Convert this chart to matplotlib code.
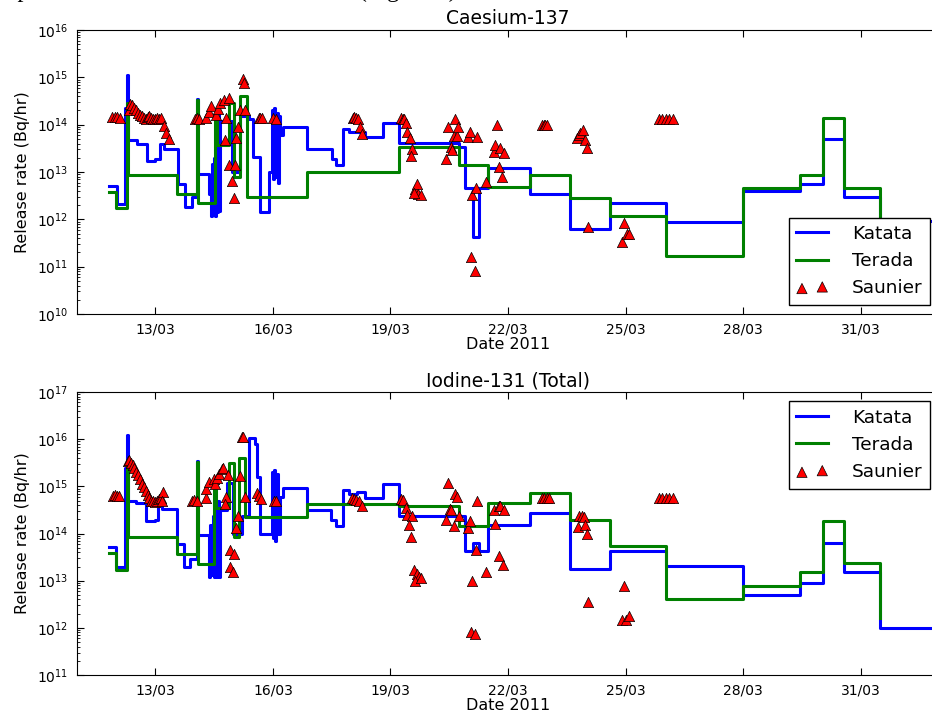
import matplotlib
matplotlib.use('Agg')
import matplotlib.pyplot as plt
import matplotlib.dates as mdates
import matplotlib.ticker as mticker
import numpy as np
import pandas as pd

# times are fractional days of March 2011, rates in Bq/hr

# ---- Caesium-137 ----
cs_katata_day = [11.81, 12.02, 12.22, 12.27, 12.29, 12.53, 12.79, 13.00, 13.13, 13.21, 13.58, 13.75,
                 13.94, 14.06, 14.08, 14.36, 14.42, 14.44, 14.46, 14.49, 14.51, 14.54, 14.56, 14.60,
                 14.62, 14.64, 14.96, 15.17, 15.38, 15.50, 15.68, 15.89, 15.98, 16.00, 16.03, 16.06,
                 16.09, 16.12, 16.15, 16.19, 16.26, 16.87, 17.51, 17.62, 17.80, 17.93, 18.36, 18.81,
                 19.22, 20.74, 20.91, 21.10, 21.27, 21.50, 22.57, 23.59, 24.59, 26.04, 28.00, 29.45,
                 30.04, 30.57, 31.50, 33.00]
cs_katata_rate = [5e12, 2.1e12, 2.3e14, 1.1e15, 4.8e13, 4.0e13, 1.7e13, 1.85e13, 4.0e13, 3.0e13, 5.7e12, 1.85e12,
                  3.0e12, 3.5e14, 9.0e12, 3.5e12, 1.2e12, 1.5e13, 1.3e12, 2.0e13, 1.2e12, 1.1e13, 1.4e12, 2.3e14,
                  1.5e12, 1.2e14, 1.0e13, 1.5e14, 1.3e14, 2.1e13, 1.4e12, 1.0e13, 2.0e14, 7e12, 2.2e14, 8e12,
                  1.8e14, 6e12, 1.5e14, 6e13, 9e13, 3e13, 1.85e13, 1.4e13, 8.3e13, 6.9e13, 5.4e13, 1.1e14,
                  4.2e13, 3.4e13, 4.5e12, 4.3e11, 4.5e12, 1.2e13, 3.4e12, 6.3e11, 2.2e12, 8.7e11, 4e12, 5.6e12,
                  5e13, 2.9e12, 9.1e11, 9.1e11]

cs_terada_day = [11.81, 12.00, 12.27, 12.30, 13.54, 14.06, 14.08, 14.51, 14.58, 14.87, 15.00, 15.17,
                 15.33, 16.87, 19.22, 20.74, 21.50, 22.57, 23.59, 24.59, 26.04, 28.00, 29.45, 30.04,
                 30.57, 31.50]
cs_terada_rate = [3.7e12, 1.7e12, 2.9e14, 8.5e12, 3.5e12, 3.3e14, 2.2e12, 1.26e14, 3.8e13, 2.9e14, 7.9e12, 4.0e14,
                  2.9e12, 1.0e13, 3.3e13, 1.4e13, 4.8e12, 8.7e12, 2.8e12, 1.2e12, 1.7e11, 4.6e12, 8.7e12, 1.4e14,
                  4.5e12, 1.0e12]

cs_saunier_day = [11.90, 11.96, 12.02, 12.09, 12.32, 12.36, 12.40, 12.45, 12.50, 12.55, 12.60, 12.65,
                  12.70, 12.75, 12.80, 12.85, 12.90, 12.95, 13.00, 13.05, 13.10, 13.15, 13.21, 13.28,
                  13.34, 14.02, 14.07, 14.11, 14.30, 14.36, 14.42, 14.56, 14.60, 14.66, 14.74, 14.87,
                  14.81, 14.77, 14.89, 14.96, 15.00, 15.02, 15.07, 15.11, 15.17, 15.24, 15.25, 15.30,
                  15.64, 15.68, 15.72, 16.01, 16.07, 18.04, 18.08, 18.12, 18.17, 18.21, 18.27, 19.27,
                  19.31, 19.35, 19.40, 19.42, 19.49, 19.56, 19.53, 19.63, 19.68, 19.69, 19.78, 19.59,
                  20.42, 20.48, 20.54, 20.57, 20.61, 20.65, 20.70, 20.72, 20.98, 21.02, 21.06, 21.09,
                  21.15, 21.19, 21.22, 21.44, 21.63, 21.67, 21.73, 21.76, 21.80, 21.84, 21.90, 22.87,
                  22.91, 22.95, 22.99, 23.76, 23.80, 23.84, 23.91, 23.97, 24.01, 24.05, 24.96, 24.91,
                  25.03, 25.08, 25.84, 25.93, 26.02, 26.11, 26.20]
cs_saunier_rate = [1.45e14, 1.45e14, 1.45e14, 1.4e14, 2.0e14, 2.8e14, 2.6e14, 2.2e14, 2.0e14, 1.8e14, 1.6e14, 1.5e14,
                   1.4e14, 1.3e14, 1.45e14, 1.5e14, 1.4e14, 1.35e14, 1.35e14, 1.4e14, 1.3e14, 1.4e14, 9.4e13, 6.6e13,
                   4.9e13, 1.3e14, 1.4e14, 1.3e14, 1.4e14, 1.9e14, 2.5e14, 1.6e14, 2.1e14, 2.9e14, 3.3e14, 3.7e14,
                   1.4e14, 4.8e13, 1.4e13, 6.5e12, 2.8e12, 1.4e13, 5.3e13, 9.1e13, 2.0e14, 9.2e14, 7.7e14, 2.0e14,
                   1.4e14, 1.4e14, 1.4e14, 1.4e14, 1.35e14, 1.4e14, 1.45e14, 1.4e14, 1.35e14, 9e13, 6.3e13, 1.4e14,
                   1.35e14, 1.3e14, 1.07e14, 7e13, 5.3e13, 3e13, 2.2e13, 4.4e12, 5.6e12, 3.4e12, 3.3e12, 3.6e12,
                   1.9e13, 9e13, 3.3e13, 2.9e13, 5.8e13, 1.3e14, 5.8e13, 9e13, 5.4e13, 7e13, 1.6e11, 3.2e12,
                   8.1e10, 4.5e12, 5.6e13, 6.3e12, 2.6e13, 3.7e13, 9.8e13, 1.3e13, 3.2e13, 7.8e12, 2.5e13, 1.0e14,
                   1.0e14, 1.0e14, 1.0e14, 5.2e13, 6e13, 6.8e13, 7.7e13, 4.8e13, 3.2e13, 6.8e11, 8.3e11, 3.3e11,
                   5e11, 5e11, 1.3e14, 1.3e14, 1.3e14, 1.3e14, 1.3e14]

# ---- Iodine-131 (Total) ----
io_katata_day = [11.81, 12.00, 12.22, 12.27, 12.30, 12.50, 12.76, 12.98, 13.08, 13.17, 13.55, 13.72,
                 13.89, 14.06, 14.08, 14.36, 14.40, 14.44, 14.46, 14.50, 14.52, 14.56, 14.58, 14.62,
                 14.66, 14.83, 14.98, 15.20, 15.38, 15.55, 15.60, 15.66, 15.97, 16.00, 16.03, 16.06,
                 16.09, 16.13, 16.19, 16.26, 16.87, 17.48, 17.62, 17.80, 17.93, 18.14, 18.36, 18.81,
                 19.22, 20.91, 21.10, 21.27, 21.50, 22.57, 23.59, 24.59, 26.04, 28.00, 29.45, 30.04,
                 30.57, 31.50, 33.00]
io_katata_rate = [5.1e13, 2e13, 2.4e15, 1.2e16, 5e14, 4.4e14, 1.8e14, 1.9e14, 4.4e14, 3.3e14, 6e13, 2e13,
                  2.9e13, 3.4e15, 9.3e13, 1.2e13, 1.5e14, 1.3e13, 2.3e14, 1.2e13, 1e14, 1.2e13, 5e14, 1.2e13,
                  3.2e14, 1.2e15, 1e14, 2.3e14, 1.05e16, 8e15, 1.55e15, 1e14, 2e15, 8e13, 2.2e15, 7e13,
                  1.8e15, 1e14, 6e14, 9.3e14, 3.2e14, 1.95e14, 1.45e14, 8.3e14, 6.9e14, 7.7e14, 5.6e14, 1.1e15,
                  2.3e14, 4.3e13, 6.2e13, 4.3e13, 1.5e14, 2.7e14, 1.8e13, 4.2e13, 2.1e13, 5e12, 8.9e12, 6.2e13,
                  1.5e13, 9.8e11, 9.8e11]

io_terada_day = [11.81, 12.00, 12.27, 12.30, 13.55, 14.06, 14.08, 14.49, 14.55, 14.87, 15.00, 15.14,
                 15.30, 16.87, 19.22, 20.74, 21.50, 22.57, 23.59, 24.59, 26.04, 28.00, 29.45, 30.04,
                 30.57, 31.50]
io_terada_rate = [3.8e13, 1.7e13, 3.5e15, 8.5e13, 3.6e13, 3.3e15, 2.3e13, 1.25e15, 3.4e14, 3.1e15, 8.5e13, 3.9e15,
                  2.2e14, 4.3e14, 3.9e14, 1.45e14, 4.4e14, 7.4e14, 1.9e14, 5.5e13, 4.1e12, 7.8e12, 1.5e13, 1.8e14,
                  2.4e13, 1.6e12]

io_saunier_day = [11.91, 11.96, 12.01, 12.06, 12.30, 12.34, 12.38, 12.42, 12.46, 12.50, 12.55, 12.60,
                  12.65, 12.70, 12.75, 12.80, 12.85, 12.90, 12.95, 13.00, 13.05, 13.10, 13.15, 13.20,
                  13.17, 13.94, 13.99, 14.06, 14.28, 14.30, 14.38, 14.49, 14.53, 14.58, 14.63, 14.70,
                  14.73, 14.85, 14.81, 14.77, 14.90, 15.00, 14.91, 14.97, 15.06, 15.11, 15.15, 15.21,
                  15.24, 15.28, 15.59, 15.64, 15.70, 16.02, 16.07, 18.02, 18.07, 18.13, 18.19, 18.27,
                  19.27, 19.31, 19.40, 19.42, 19.55, 19.48, 19.53, 19.59, 19.67, 19.74, 19.63, 19.78,
                  20.42, 20.48, 20.53, 20.54, 20.61, 20.65, 20.70, 20.74, 20.97, 21.02, 21.06, 21.09,
                  21.15, 21.19, 21.22, 21.44, 21.63, 21.67, 21.76, 21.80, 21.90, 21.76, 21.86, 22.86,
                  22.92, 22.99, 23.05, 23.78, 23.82, 23.89, 23.94, 23.97, 24.01, 24.05, 24.91, 24.96,
                  25.02, 25.09, 25.84, 25.93, 26.02, 26.11, 26.20]
io_saunier_rate = [6.3e14, 6.5e14, 6.3e14, 6.3e14, 3.5e15, 3.7e15, 3.2e15, 2.8e15, 2.4e15, 2.0e15, 1.7e15, 1.4e15,
                   1.15e15, 9.5e14, 7.8e14, 6.5e14, 5.6e14, 5.0e14, 4.8e14, 4.7e14, 5.0e14, 5.3e14, 5.8e14, 7.7e14,
                   4.9e14, 5e14, 5.1e14, 4.9e14, 5.6e14, 8.7e14, 1.25e15, 1.4e15, 1.1e15, 1.5e15, 1.8e15, 2.3e15,
                   2.4e15, 1.75e15, 5.9e14, 4.2e14, 4.5e13, 3.7e13, 2e13, 1.55e13, 1.3e14, 2.3e14, 1.65e15, 1.1e16,
                   1.1e16, 5.9e14, 7.4e14, 6.2e14, 5.4e14, 4.9e14, 4.9e14, 5.8e14, 5.5e14, 5.2e14, 5e14, 3.9e14,
                   5.5e14, 5.2e14, 3.4e14, 2.5e14, 2.3e14, 1.5e14, 8.4e13, 1.7e13, 1.4e13, 1.2e13, 1e13, 1.15e13,
                   1.9e14, 1.2e15, 3.3e14, 3.1e14, 1.45e14, 6.9e14, 5.9e14, 2.3e14, 1.3e14, 1.85e14, 8e11, 1e13,
                   7.4e11, 4.4e13, 5e14, 1.55e13, 3.2e14, 1.6e14, 3.9e14, 3.9e14, 3.2e14, 3.3e13, 2.2e13, 5.6e14,
                   5.6e14, 5.6e14, 5.6e14, 1.4e14, 2.3e14, 2.3e14, 2.2e14, 1.5e14, 1e14, 3.6e12, 1.5e12, 7.9e12,
                   1.5e12, 1.8e12, 5.6e14, 5.6e14, 5.6e14, 5.6e14, 5.6e14]

panel_titles = ['Caesium-137', 'Iodine-131 (Total)']
series_labels = ['Katata', 'Terada', 'Saunier']
tick_dates = pd.date_range('2011-03-13', '2011-03-31', freq='3D')


def to_dates(days):
    return (pd.Timestamp('2011-03-01') + pd.to_timedelta(np.asarray(days) - 1, unit='D')).to_numpy()


fig = plt.figure(figsize=(9.32, 7.15), dpi=100)
ax1 = fig.add_axes([0.0826, 0.5608, 0.925, 0.3972])
ax2 = fig.add_axes([0.0826, 0.0559, 0.925, 0.3958])

panels = [
    (ax1, cs_katata_day, cs_katata_rate, cs_terada_day, cs_terada_rate, cs_saunier_day, cs_saunier_rate,
     (1e10, 1e16), 'lower right'),
    (ax2, io_katata_day, io_katata_rate, io_terada_day, io_terada_rate, io_saunier_day, io_saunier_rate,
     (1e11, 1e17), 'upper right'),
]

for i, (ax, kd, kr, td, tr, sd, sr, ylim, loc) in enumerate(panels):
    ax.step(to_dates(kd), kr, where='post', color='#0000ff', lw=2.2, label=series_labels[0])
    ax.step(to_dates(td), tr, where='post', color='#008000', lw=2.2, label=series_labels[1])
    ax.scatter(to_dates(sd), sr, marker='^', s=55, c='red', edgecolors='black', linewidths=0.5,
               zorder=3, label=series_labels[2])
    ax.set_yscale('log')
    ax.set_ylim(*ylim)
    ax.set_xlim(pd.Timestamp('2011-03-11'), pd.Timestamp('2011-04-02'))
    ax.xaxis.set_major_locator(mticker.FixedLocator(mdates.date2num(tick_dates)))
    ax.xaxis.set_major_formatter(mdates.DateFormatter('%d/%m'))
    ax.tick_params(which='both', direction='in', top=True, right=True, labelsize=10)
    ax.tick_params(which='major', length=5, pad=6)
    ax.tick_params(which='minor', length=2.5)
    ax.set_xlabel('Date 2011', fontsize=11.5, labelpad=0.5)
    ax.set_ylabel('Release rate (Bq/hr)', fontsize=11.5, labelpad=5)
    ax.set_title(panel_titles[i], fontsize=13.5, pad=4)
    leg = ax.legend(loc=loc, fontsize=13.3, scatterpoints=2, fancybox=False, framealpha=1,
                    handlelength=1.7, handletextpad=1.3, borderaxespad=0.5)
    leg.get_frame().set_edgecolor('black')

# clipped line of the surrounding document text
fig.text(463 / 932, 1 + 3 / 715, 'spatial variation of the release rates (Figure 1).',
         family='Liberation Serif', fontsize=17.5, ha='right', va='baseline')

fig.savefig('out.png', dpi=100)
